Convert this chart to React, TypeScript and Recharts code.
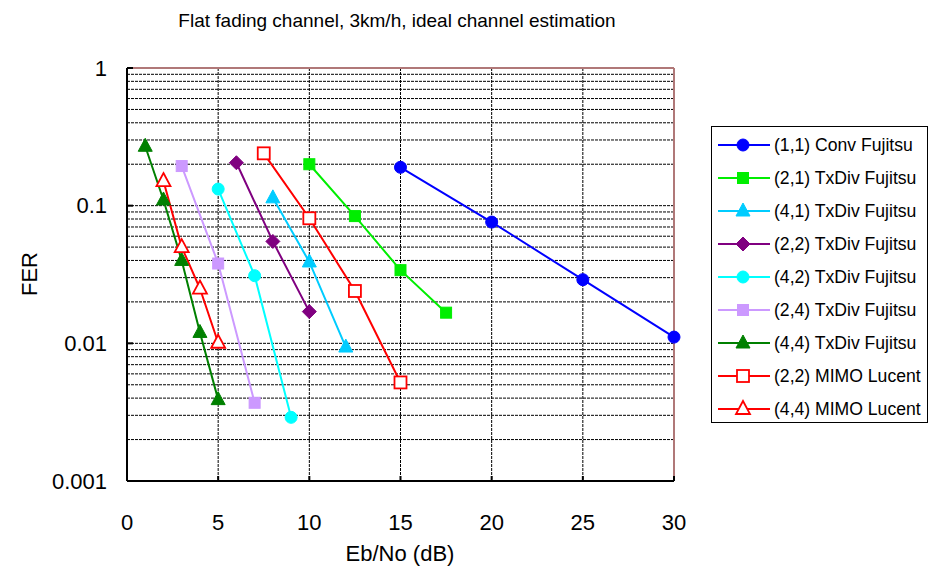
import React from 'react';
import { LineChart, Line, XAxis, YAxis, CartesianGrid, ReferenceLine } from 'recharts';

// axis ticks
const X_TICKS = [0, 5, 10, 15, 20, 25, 30];
const Y_TICKS = [
    0.001, 0.002, 0.003, 0.004, 0.005, 0.006, 0.007, 0.008, 0.009,
    0.01, 0.02, 0.03, 0.04, 0.05, 0.06, 0.07, 0.08, 0.09,
    0.1, 0.2, 0.3, 0.4, 0.5, 0.6, 0.7, 0.8, 0.9, 1,
];
const Y_LABELS = [0.001, 0.01, 0.1, 1];

// Eb/No (dB) and FER
const conv11Eb = [15, 20, 25, 30];
const conv11Fer = [0.19, 0.076, 0.029, 0.0111];
const tx21Eb = [10, 12.5, 15, 17.5];
const tx21Fer = [0.2, 0.084, 0.034, 0.0167];
const tx41Eb = [8, 10, 12];
const tx41Fer = [0.114, 0.039, 0.0094];
const tx22Eb = [6, 8, 10];
const tx22Fer = [0.205, 0.055, 0.017];
const tx42Eb = [5, 7, 9];
const tx42Fer = [0.132, 0.031, 0.0029];
const tx24Eb = [3, 5, 7];
const tx24Fer = [0.194, 0.038, 0.0037];
const tx44Eb = [1, 2, 3, 4, 5];
const tx44Fer = [0.27, 0.11, 0.04, 0.012, 0.0039];
const mimo22Eb = [7.5, 10, 12.5, 15];
const mimo22Fer = [0.24, 0.081, 0.024, 0.0052];
const mimo44Eb = [2, 3, 4, 5];
const mimo44Fer = [0.151, 0.05, 0.025, 0.0101];

type Shape = 'circle' | 'square' | 'triangle' | 'diamond';

interface Series {
    name: string;
    color: string;
    shape: Shape;
    filled: boolean;
    eb: number[];
    fer: number[];
}

const SERIES: Series[] = [
    { name: '(1,1) Conv Fujitsu', color: '#0000ff', shape: 'circle', filled: true, eb: conv11Eb, fer: conv11Fer },
    { name: '(2,1) TxDiv Fujitsu', color: '#00ee00', shape: 'square', filled: true, eb: tx21Eb, fer: tx21Fer },
    { name: '(4,1) TxDiv Fujitsu', color: '#00ccff', shape: 'triangle', filled: true, eb: tx41Eb, fer: tx41Fer },
    { name: '(2,2) TxDiv Fujitsu', color: '#800080', shape: 'diamond', filled: true, eb: tx22Eb, fer: tx22Fer },
    { name: '(4,2) TxDiv Fujitsu', color: '#00ffff', shape: 'circle', filled: true, eb: tx42Eb, fer: tx42Fer },
    { name: '(2,4) TxDiv Fujitsu', color: '#cc99ff', shape: 'square', filled: true, eb: tx24Eb, fer: tx24Fer },
    { name: '(4,4) TxDiv Fujitsu', color: '#008000', shape: 'triangle', filled: true, eb: tx44Eb, fer: tx44Fer },
    { name: '(2,2) MIMO Lucent', color: '#ff0000', shape: 'square', filled: false, eb: mimo22Eb, fer: mimo22Fer },
    { name: '(4,4) MIMO Lucent', color: '#ff0000', shape: 'triangle', filled: false, eb: mimo44Eb, fer: mimo44Fer },
];

const PLOT_LEFT = 127;
const PLOT_BOTTOM = 481;
const FONT = '"Liberation Sans", Arial, sans-serif';

const Marker = ({ cx, cy, shape, color, filled }: { cx: number; cy: number; shape: Shape; color: string; filled: boolean }) => {
    const fill = filled ? color : '#ffffff';
    const sw = filled ? 1 : 1.8;
    if (shape === 'circle') return <circle cx={cx} cy={cy} r={6} fill={fill} stroke={color} strokeWidth={sw} />;
    if (shape === 'square') {
        const h = filled ? 5.5 : 6;
        return <rect x={cx - h} y={cy - h} width={h * 2} height={h * 2} fill={fill} stroke={color} strokeWidth={sw} />;
    }
    if (shape === 'diamond') {
        return <polygon points={`${cx},${cy - 7} ${cx + 7},${cy} ${cx},${cy + 7} ${cx - 7},${cy}`} fill={fill} stroke={color} strokeWidth={sw} />;
    }
    return <polygon points={`${cx},${cy - 8} ${cx + 7},${cy + 5} ${cx - 7},${cy + 5}`} fill={fill} stroke={color} strokeWidth={sw} />;
};

const XTick = (props: any) => {
    const { x, payload } = props;
    return (
        <g>
            <line x1={x} x2={x} y1={PLOT_BOTTOM} y2={PLOT_BOTTOM - 5} stroke="#000" strokeWidth={2} />
            <text x={x} y={PLOT_BOTTOM + 41} textAnchor="middle" dominantBaseline="central" fontSize={22} fontFamily={FONT} fill="#000">
                {payload.value}
            </text>
        </g>
    );
};

const YTick = (props: any) => {
    const { y, payload } = props;
    const v = payload.value;
    const major = Y_LABELS.some(d => Math.abs(d - v) < 1e-9);
    return (
        <g>
            {major && <line x1={PLOT_LEFT} x2={PLOT_LEFT + 6} y1={y} y2={y} stroke="#000" strokeWidth={2} />}
            {major && (
                <text x={PLOT_LEFT - 20} y={y} textAnchor="end" dominantBaseline="central" fontSize={22} fontFamily={FONT} fill="#000">
                    {v}
                </text>
            )}
        </g>
    );
};

const LegendBox = () => (
    <div style={{ position: 'absolute', left: 711, top: 126, width: 217, height: 297, border: '1.5px solid #000', boxSizing: 'border-box', background: '#fff' }}>
        <svg width={214} height={294}>
            {SERIES.map((s, i) => {
                const cy = 18 + i * 33;
                return (
                    <g key={s.name}>
                        <line x1={6} x2={58} y1={cy} y2={cy} stroke={s.color} strokeWidth={2} />
                        <Marker cx={31} cy={cy} shape={s.shape} color={s.color} filled={s.filled} />
                        <text x={62} y={cy} dominantBaseline="central" fontSize={17.6} fontFamily={FONT} fill="#000">
                            {s.name}
                        </text>
                    </g>
                );
            })}
        </svg>
    </div>
);

export default function App() {
    return (
        <div style={{ position: 'absolute', left: 0, top: 0, width: 929, height: 574, background: '#fff', fontFamily: FONT }}>
            <LineChart width={929} height={574} margin={{ top: 68, right: 255, bottom: 53, left: 67 }}>
                <CartesianGrid stroke="#000" strokeDasharray="3 1" strokeWidth={1} />
                <XAxis
                    type="number"
                    dataKey="x"
                    domain={[0, 30]}
                    ticks={X_TICKS}
                    height={40}
                    axisLine={{ stroke: '#000', strokeWidth: 2 }}
                    tickLine={false}
                    tick={<XTick />}
                    interval={0}
                />
                <YAxis
                    type="number"
                    dataKey="y"
                    scale="log"
                    domain={[0.001, 1]}
                    allowDataOverflow
                    ticks={Y_TICKS}
                    width={60}
                    axisLine={{ stroke: '#000', strokeWidth: 2 }}
                    tickLine={false}
                    tick={<YTick />}
                    interval={0}
                />
                <ReferenceLine y={1} stroke="#b07878" strokeWidth={2} />
                <ReferenceLine x={30} stroke="#b07878" strokeWidth={2} />
                {SERIES.map(s => (
                    <Line
                        key={s.name}
                        name={s.name}
                        data={s.eb.map((x, i) => ({ x, y: s.fer[i] }))}
                        dataKey="y"
                        stroke={s.color}
                        strokeWidth={2}
                        isAnimationActive={false}
                        dot={(p: any) => (
                            <Marker key={`${s.name}-${p.index}`} cx={p.cx} cy={p.cy} shape={s.shape} color={s.color} filled={s.filled} />
                        )}
                        activeDot={false}
                    />
                ))}
            </LineChart>
            <div style={{ position: 'absolute', left: 0, width: 794, top: 10, textAlign: 'center', fontSize: 19 }}>
                Flat fading channel, 3km/h, ideal channel estimation
            </div>
            <div style={{ position: 'absolute', left: 30, top: 274, fontSize: 22, transform: 'translate(-50%, -50%) rotate(-90deg)' }}>
                FER
            </div>
            <div style={{ position: 'absolute', left: 400, top: 554, fontSize: 22, transform: 'translate(-50%, -50%)', whiteSpace: 'nowrap' }}>
                Eb/No (dB)
            </div>
            <LegendBox />
        </div>
    );
}
